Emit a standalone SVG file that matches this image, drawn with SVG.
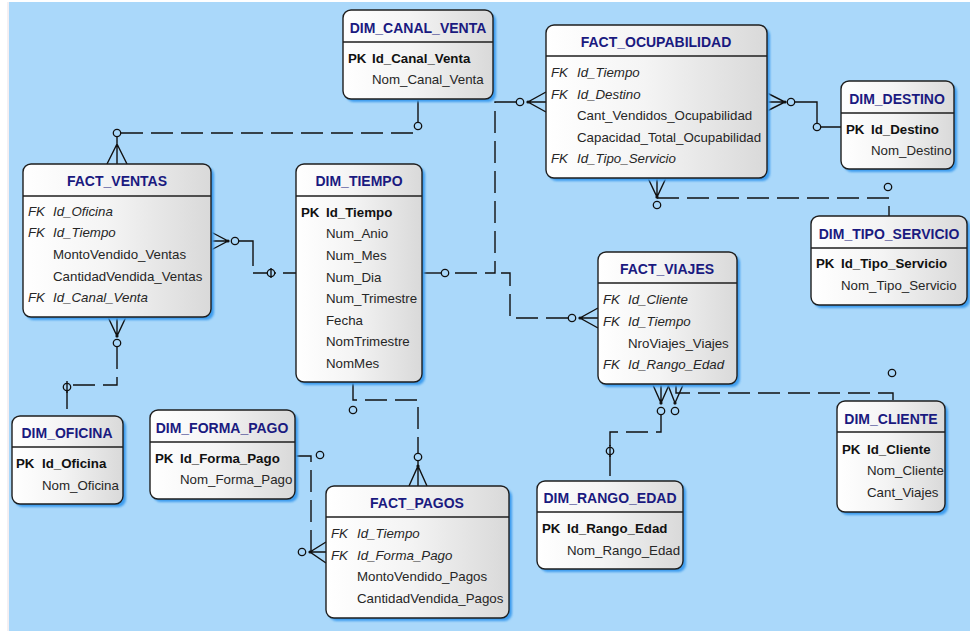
<svg xmlns="http://www.w3.org/2000/svg" width="970" height="631" viewBox="0 0 970 631">
  <defs>
    <linearGradient id="boxFill" x1="0" y1="0" x2="1" y2="0">
      <stop offset="0" stop-color="#ffffff"/>
      <stop offset="0.45" stop-color="#f4f4f4"/>
      <stop offset="1" stop-color="#d9d9d9"/>
    </linearGradient>
    <filter id="soft" x="-10%" y="-10%" width="120%" height="120%">
      <feGaussianBlur stdDeviation="1.2"/>
    </filter>
  </defs>
  <style>
    .bg { fill: #aad8fa; }
    .shadow { fill: #3c9cee; filter: url(#soft); }
    .box { fill: url(#boxFill); stroke: #1e1e1e; stroke-width: 1.4; }
    .sep { stroke: #1e1e1e; stroke-width: 1.3; }
    .title { font-family: "Liberation Sans", Arial, sans-serif; font-size: 14px; font-weight: bold; fill: #1a1a80; text-anchor: middle; }
    .f { font-family: "Liberation Sans", Arial, sans-serif; font-size: 13.3px; fill: #262626; }
    .pk { font-weight: bold; fill: #111111; }
    .fk { font-style: italic; }
    .ln { stroke: #111111; stroke-width: 1.4; fill: none; }
    .dash { stroke-dasharray: 22 8; }
    .o { fill: #aad8fa; stroke: #111111; stroke-width: 1.3; }
    .dot { fill: #111111; }
  </style>

  <rect x="0" y="0" width="970" height="631" fill="#ffffff"/>
  <rect class="bg" x="9" y="2" width="961" height="629"/>
  <line x1="8" y1="2" x2="8" y2="631" stroke="#e8e0e6" stroke-width="1"/>

  <!-- relationships -->
  <g id="connectors">
    <!-- DIM_CANAL_VENTA to FACT_VENTAS -->
    <path class="ln" d="M418,99 V122"/>
    <path class="ln dash" d="M121,133 H418 V130"/>
    <circle class="o" cx="418" cy="126" r="3.7"/>
    <path class="ln" d="M117,137 V164 M107,164 L117,144 L127,164"/>
    <circle class="o" cx="117" cy="133" r="3.7"/>

    <!-- FACT_VENTAS to DIM_TIEMPO -->
    <path class="ln" d="M211,232 L228,241 L211,250 M211,241 H228"/>
    <circle class="dot" cx="228" cy="241" r="1.6"/>
    <circle class="o" cx="235" cy="241" r="3.7"/>
    <path class="ln" d="M239,241 H253 V266 M253,273 H276 M283,273 H296"/>
    <circle class="o" cx="271" cy="273" r="3.7"/>
    <path class="ln" d="M271,268 V278"/>

    <!-- DIM_TIEMPO to FACT_OCUPABILIDAD -->
    <path class="ln" d="M422,273 H441"/>
    <circle class="o" cx="445" cy="273" r="3.7"/>
    <path class="ln dash" d="M516,102 H495 V273 H449"/>
    <circle class="o" cx="520" cy="102" r="3.7"/>
    <path class="ln" d="M546,92 L528,102 L546,112 M528,102 H546"/>
    <circle class="dot" cx="528" cy="102" r="1.6"/>

    <!-- DIM_TIEMPO to FACT_VIAJES -->
    <path class="ln dash" d="M568,318 H510 V273 H495"/>
    <circle class="o" cx="572" cy="318" r="3.7"/>
    <path class="ln" d="M598,308 L580,318 L598,328 M580,318 H598"/>
    <circle class="dot" cx="580" cy="318" r="1.6"/>

    <!-- FACT_OCUPABILIDAD to DIM_DESTINO -->
    <path class="ln" d="M767,93 L785,102 L767,111 M767,102 H785"/>
    <circle class="dot" cx="785" cy="102" r="1.6"/>
    <circle class="o" cx="791" cy="102" r="3.7"/>
    <path class="ln" d="M795,102 H817 V123 M821,127 H841"/>
    <circle class="o" cx="817" cy="127" r="3.7"/>

    <!-- FACT_OCUPABILIDAD to DIM_TIPO_SERVICIO -->
    <path class="ln" d="M648,178 L657,197 L666,178 M657,178 V197"/>
    <circle class="dot" cx="657" cy="197" r="1.6"/>
    <circle class="o" cx="657" cy="205" r="3.7"/>
    <path class="ln dash" d="M657,198 H889 V216"/>
    <circle class="o" cx="888" cy="187" r="3.7"/>

    <!-- FACT_VIAJES to DIM_RANGO_EDAD -->
    <path class="ln" d="M653,385 L661,403 L669,385 M661,385 V403"/>
    <circle class="dot" cx="661" cy="403" r="1.6"/>
    <circle class="o" cx="661" cy="411" r="3.7"/>
    <path class="ln dash" d="M661,415 V432 H610 V481"/>
    <circle class="o" cx="610" cy="451" r="3.7"/>
    <path class="ln" d="M610,445 V457"/>

    <!-- FACT_VIAJES to DIM_CLIENTE -->
    <path class="ln" d="M668,385 L675,403 L683,385"/>
    <circle class="dot" cx="675" cy="403" r="1.6"/>
    <circle class="o" cx="675" cy="411" r="3.7"/>
    <path class="ln dash" d="M676,385 V393 H893 V401"/>
    <circle class="o" cx="892" cy="373" r="3.7"/>

    <!-- FACT_VENTAS to DIM_OFICINA -->
    <path class="ln" d="M108,317 L117,336 L126,317 M117,317 V336"/>
    <circle class="dot" cx="117" cy="336" r="1.6"/>
    <circle class="o" cx="117" cy="343" r="3.7"/>
    <path class="ln dash" d="M117,347 V385 H67 V416"/>
    <circle class="o" cx="67" cy="387" r="3.7"/>
    <path class="ln" d="M67,381 V393"/>

    <!-- DIM_TIEMPO to FACT_PAGOS -->
    <path class="ln dash" d="M353,382 V400 H418 V453"/>
    <circle class="o" cx="353" cy="410" r="3.7"/>
    <circle class="o" cx="418" cy="457" r="3.7"/>
    <path class="ln" d="M418,461 V486 M409,486 L418,466 L427,486"/>
    <circle class="dot" cx="418" cy="466" r="1.6"/>

    <!-- DIM_FORMA_PAGO to FACT_PAGOS -->
    <path class="ln dash" d="M295,456 H311 V552"/>
    <circle class="o" cx="320" cy="455" r="3.7"/>
    <path class="ln" d="M326,542 L310,552 L326,563 M310,552 H326"/>
    <circle class="dot" cx="310" cy="552" r="1.6"/>
    <circle class="o" cx="302" cy="552" r="3.7"/>
  </g>

  <!-- tables -->
  <g id="dim_canal_venta">
    <rect class="shadow" x="346" y="13" width="150" height="89" rx="8"/>
    <rect class="box" x="343" y="10" width="150" height="89" rx="8"/>
    <line class="sep" x1="343" y1="42" x2="493" y2="42"/>
    <text class="title" x="418" y="33">DIM_CANAL_VENTA</text>
    <text class="f pk" x="348" y="63">PK</text><text class="f pk" x="372" y="63">Id_Canal_Venta</text>
    <text class="f" x="372" y="84">Nom_Canal_Venta</text>
  </g>

  <g id="fact_ventas">
    <rect class="shadow" x="26" y="167" width="188" height="153" rx="8"/>
    <rect class="box" x="23" y="164" width="188" height="153" rx="8"/>
    <line class="sep" x1="23" y1="196" x2="211" y2="196"/>
    <text class="title" x="117" y="186">FACT_VENTAS</text>
    <text class="f fk" x="28" y="216">FK</text><text class="f fk" x="53" y="216">Id_Oficina</text>
    <text class="f fk" x="28" y="237">FK</text><text class="f fk" x="53" y="237">Id_Tiempo</text>
    <text class="f" x="53" y="259">MontoVendido_Ventas</text>
    <text class="f" x="53" y="281">CantidadVendida_Ventas</text>
    <text class="f fk" x="28" y="302">FK</text><text class="f fk" x="53" y="302">Id_Canal_Venta</text>
  </g>

  <g id="dim_tiempo">
    <rect class="shadow" x="299" y="167" width="126" height="218" rx="8"/>
    <rect class="box" x="296" y="164" width="126" height="218" rx="8"/>
    <line class="sep" x1="296" y1="196" x2="422" y2="196"/>
    <text class="title" x="359" y="186">DIM_TIEMPO</text>
    <text class="f pk" x="301" y="217">PK</text><text class="f pk" x="326" y="217">Id_Tiempo</text>
    <text class="f" x="326" y="238">Num_Anio</text>
    <text class="f" x="326" y="260">Num_Mes</text>
    <text class="f" x="326" y="282">Num_Dia</text>
    <text class="f" x="326" y="303">Num_Trimestre</text>
    <text class="f" x="326" y="325">Fecha</text>
    <text class="f" x="326" y="346">NomTrimestre</text>
    <text class="f" x="326" y="368">NomMes</text>
  </g>

  <g id="fact_ocupabilidad">
    <rect class="shadow" x="549" y="28" width="221" height="153" rx="8"/>
    <rect class="box" x="546" y="25" width="221" height="153" rx="8"/>
    <line class="sep" x1="546" y1="56" x2="767" y2="56"/>
    <text class="title" x="656" y="47">FACT_OCUPABILIDAD</text>
    <text class="f fk" x="551" y="77">FK</text><text class="f fk" x="577" y="77">Id_Tiempo</text>
    <text class="f fk" x="551" y="99">FK</text><text class="f fk" x="577" y="99">Id_Destino</text>
    <text class="f" x="577" y="120">Cant_Vendidos_Ocupabilidad</text>
    <text class="f" x="577" y="142">Capacidad_Total_Ocupabilidad</text>
    <text class="f fk" x="551" y="163">FK</text><text class="f fk" x="577" y="163">Id_Tipo_Servicio</text>
  </g>

  <g id="dim_destino">
    <rect class="shadow" x="844" y="84" width="113" height="88" rx="8"/>
    <rect class="box" x="841" y="81" width="113" height="88" rx="8"/>
    <line class="sep" x1="841" y1="113" x2="954" y2="113"/>
    <text class="title" x="897" y="104">DIM_DESTINO</text>
    <text class="f pk" x="846" y="134">PK</text><text class="f pk" x="871" y="134">Id_Destino</text>
    <text class="f" x="871" y="155">Nom_Destino</text>
  </g>

  <g id="dim_tipo_servicio">
    <rect class="shadow" x="814" y="219" width="156" height="89" rx="8"/>
    <rect class="box" x="811" y="216" width="156" height="89" rx="8"/>
    <line class="sep" x1="811" y1="248" x2="967" y2="248"/>
    <text class="title" x="889" y="239">DIM_TIPO_SERVICIO</text>
    <text class="f pk" x="816" y="268">PK</text><text class="f pk" x="841" y="268">Id_Tipo_Servicio</text>
    <text class="f" x="841" y="290">Nom_Tipo_Servicio</text>
  </g>

  <g id="fact_viajes">
    <rect class="shadow" x="601" y="255" width="139" height="132" rx="8"/>
    <rect class="box" x="598" y="252" width="139" height="132" rx="8"/>
    <line class="sep" x1="598" y1="283" x2="737" y2="283"/>
    <text class="title" x="667" y="274">FACT_VIAJES</text>
    <text class="f fk" x="603" y="304">FK</text><text class="f fk" x="628" y="304">Id_Cliente</text>
    <text class="f fk" x="603" y="326">FK</text><text class="f fk" x="628" y="326">Id_Tiempo</text>
    <text class="f" x="628" y="348">NroViajes_Viajes</text>
    <text class="f fk" x="603" y="369">FK</text><text class="f fk" x="628" y="369">Id_Rango_Edad</text>
  </g>

  <g id="dim_cliente">
    <rect class="shadow" x="840" y="404" width="108" height="111" rx="8"/>
    <rect class="box" x="837" y="401" width="108" height="111" rx="8"/>
    <line class="sep" x1="837" y1="432" x2="945" y2="432"/>
    <text class="title" x="891" y="424">DIM_CLIENTE</text>
    <text class="f pk" x="842" y="454">PK</text><text class="f pk" x="867" y="454">Id_Cliente</text>
    <text class="f" x="867" y="475">Nom_Cliente</text>
    <text class="f" x="867" y="497">Cant_Viajes</text>
  </g>

  <g id="dim_rango_edad">
    <rect class="shadow" x="540" y="484" width="146" height="88" rx="8"/>
    <rect class="box" x="537" y="481" width="146" height="88" rx="8"/>
    <line class="sep" x1="537" y1="512" x2="683" y2="512"/>
    <text class="title" x="610" y="503">DIM_RANGO_EDAD</text>
    <text class="f pk" x="542" y="533">PK</text><text class="f pk" x="567" y="533">Id_Rango_Edad</text>
    <text class="f" x="567" y="555">Nom_Rango_Edad</text>
  </g>

  <g id="dim_oficina">
    <rect class="shadow" x="15" y="419" width="111" height="88" rx="8"/>
    <rect class="box" x="12" y="416" width="111" height="88" rx="8"/>
    <line class="sep" x1="12" y1="447" x2="123" y2="447"/>
    <text class="title" x="67" y="438">DIM_OFICINA</text>
    <text class="f pk" x="16" y="468">PK</text><text class="f pk" x="42" y="468">Id_Oficina</text>
    <text class="f" x="42" y="490">Nom_Oficina</text>
  </g>

  <g id="dim_forma_pago">
    <rect class="shadow" x="153" y="413" width="145" height="89" rx="8"/>
    <rect class="box" x="150" y="410" width="145" height="89" rx="8"/>
    <line class="sep" x1="150" y1="442" x2="295" y2="442"/>
    <text class="title" x="222" y="433">DIM_FORMA_PAGO</text>
    <text class="f pk" x="155" y="463">PK</text><text class="f pk" x="180" y="463">Id_Forma_Pago</text>
    <text class="f" x="180" y="484">Nom_Forma_Pago</text>
  </g>

  <g id="fact_pagos">
    <rect class="shadow" x="329" y="489" width="183" height="132" rx="8"/>
    <rect class="box" x="326" y="486" width="183" height="132" rx="8"/>
    <line class="sep" x1="326" y1="517" x2="509" y2="517"/>
    <text class="title" x="417" y="508">FACT_PAGOS</text>
    <text class="f fk" x="331" y="538">FK</text><text class="f fk" x="357" y="538">Id_Tiempo</text>
    <text class="f fk" x="331" y="560">FK</text><text class="f fk" x="357" y="560">Id_Forma_Pago</text>
    <text class="f" x="357" y="581">MontoVendido_Pagos</text>
    <text class="f" x="357" y="603">CantidadVendida_Pagos</text>
  </g>
</svg>
